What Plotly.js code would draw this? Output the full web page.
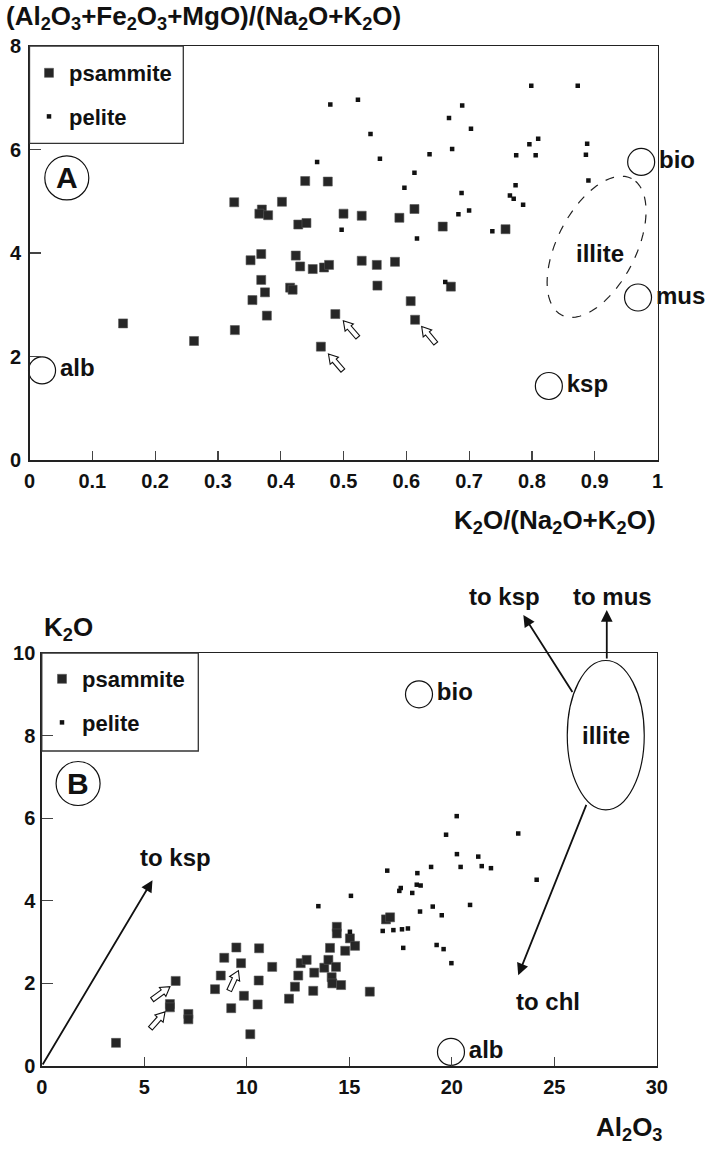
<!DOCTYPE html>
<html><head><meta charset="utf-8">
<script src="https://cdn.plot.ly/plotly-3.0.1.min.js"></script>
<style>html,body{margin:0;padding:0;background:#fff}#chart{width:715px;height:1149px}</style>
</head><body><div id="chart"></div>
<script>
const W = 715, H = 1149;
const FONT = 'Liberation Sans, Arial, Helvetica, sans-serif';

// ---------- Panel A data: K2O/(Na2O+K2O) vs (Al2O3+Fe2O3+MgO)/(Na2O+K2O) ----------
const psamA_x = [0.149,0.262,0.326,0.370,0.366,0.380,0.402,0.428,0.441,0.439,0.475,0.500,0.529,0.589,0.613,0.658,0.758,
                 0.352,0.369,0.424,0.431,0.451,0.469,0.477,0.529,0.553,0.582,0.369,0.375,0.355,0.415,0.419,0.554,0.671,
                 0.607,0.378,0.487,0.614,0.327,0.464];
const psamA_y = [2.64,2.30,4.98,4.84,4.76,4.73,4.99,4.55,4.58,5.39,5.38,4.76,4.72,4.68,4.85,4.51,4.46,
                 3.86,3.98,3.95,3.74,3.69,3.72,3.77,3.85,3.77,3.83,3.48,3.24,3.09,3.33,3.29,3.37,3.35,
                 3.07,2.79,2.82,2.71,2.51,2.19];
const pelA_x = [0.479,0.523,0.543,0.668,0.673,0.637,0.558,0.613,0.597,0.458,0.688,0.683,0.700,0.497,0.617,0.799,
                0.873,0.689,0.703,0.796,0.810,0.775,0.806,0.888,0.886,0.890,0.774,0.765,0.771,0.786,0.737,0.662];
const pelA_y = [6.87,6.96,6.30,6.61,6.01,5.91,5.82,5.55,5.26,5.76,5.16,4.75,4.82,4.45,4.28,7.23,
                7.23,6.85,6.40,6.10,6.21,5.89,5.89,6.11,5.90,5.40,5.31,5.11,5.05,4.93,4.42,3.44];
const endA_names = ['alb','ksp','bio','mus'];
const endA_x = [0.020,0.827,0.974,0.969];
const endA_y = [1.73,1.43,5.76,3.14];
// hollow arrows in panel A: tip position and direction (tail - tip)
const arrowsA_x = [0.4997,0.476,0.6245];
const arrowsA_y = [2.69,2.05,2.58];
const arrowsA_dir = [[13.4,-15.3],[12.4,-14.3],[13.3,-16]];
const A_xticks = [0,0.1,0.2,0.3,0.4,0.5,0.6,0.7,0.8,0.9,1];
const A_xticktext = ['0','0.1','0.2','0.3','0.4','0.5','0.6','0.7','0.8','0.9','1'];
const A_yticks = [0,2,4,6,8];
const A_yticktext = ['0','2','4','6','8'];

// ---------- Panel B data: Al2O3 vs K2O ----------
const psamB_x = [3.62,6.53,6.25,6.25,7.15,7.15,8.45,8.73,8.90,9.49,9.72,9.24,9.86,10.17,10.60,10.58,10.53,11.24,
                 12.06,12.35,12.51,12.63,12.92,13.24,13.29,13.78,13.98,14.06,14.14,14.17,14.35,14.60,14.39,14.39,
                 14.80,15.03,15.28,16.79,16.99,16.0];
const psamB_y = [0.56,2.06,1.50,1.42,1.26,1.13,1.86,2.19,2.62,2.87,2.49,1.40,1.70,0.77,2.85,2.07,1.49,2.40,
                 1.63,1.92,2.19,2.49,2.57,1.82,2.26,2.38,2.57,2.86,2.15,2.00,2.40,1.96,3.37,3.21,
                 2.79,3.09,2.91,3.55,3.60,1.80];
const pelB_x = [20.24,19.72,23.24,20.25,21.29,20.43,21.46,21.91,18.99,18.32,16.85,18.29,18.48,17.51,17.44,18.07,
                24.14,15.08,13.49,19.07,20.89,18.45,19.51,16.63,17.15,17.57,17.86,17.63,19.26,19.60,19.98,15.03];
const pelB_y = [6.05,5.60,5.63,5.13,5.07,4.82,4.84,4.79,4.82,4.67,4.73,4.39,4.37,4.31,4.24,4.19,
                4.51,4.12,3.87,3.86,3.90,3.74,3.65,3.27,3.29,3.31,3.33,2.86,2.93,2.83,2.49,3.25];
const endB_names = ['bio','alb'];
const endB_x = [18.4,19.96];
const endB_y = [9.0,0.34];
const arrowsB_x = [6.25,6.01,9.59];
const arrowsB_y = [1.92,1.31,2.31];
const arrowsB_dir = [[-16,-11.6],[-13.3,-15],[-7.6,-16.6]];
const B_xticks = [0,5,10,15,20,25,30];
const B_xticktext = ['0','5','10','15','20','25','30'];
const B_yticks = [0,2,4,6,8,10];
const B_yticktext = ['0','2','4','6','8','10'];

// ---------- layout geometry (pixels) ----------
const APX = {l:29.5, r:657.5, t:46, b:460};
const BPX = {l:41.8, r:656.8, t:653, b:1066};
const fx = p => p / W;
const fy = p => 1 - p / H;

function axisBase(extra) {
  return Object.assign({
    showgrid:false, zeroline:false, showline:true, mirror:true,
    linecolor:'#222', linewidth:1.5, ticks:'inside', ticklen:9, tickwidth:1.2, tickcolor:'#444',
    tickfont:{family:FONT, size:20, color:'#111', weight:'bold'}, tickmode:'array', fixedrange:true
  }, extra);
}

const psamMarker = {symbol:'square', size:9, color:'#262626', line:{color:'#555', width:0.6}};
const pelMarker = {symbol:'square', size:4.5, color:'#111', line:{width:0}};
const endMarker = {symbol:'circle-open', size:27, color:'#111', line:{color:'#111', width:1.2}};
const labFont = {family:FONT, size:24, color:'#111', weight:'bold'};

const traces = [
  {type:'scatter', mode:'markers', x:psamA_x, y:psamA_y, xaxis:'x', yaxis:'y', name:'psammite',
   marker:psamMarker, legend:'legend', legendgroup:'pA', hoverinfo:'x+y'},
  {type:'scatter', mode:'markers', x:pelA_x, y:pelA_y, xaxis:'x', yaxis:'y', name:'pelite',
   marker:pelMarker, legend:'legend', legendgroup:'lA', hoverinfo:'x+y'},
  {type:'scatter', mode:'markers+text', x:endA_x, y:endA_y, text:endA_names, textposition:'middle right',
   textfont:labFont, xaxis:'x', yaxis:'y', marker:endMarker, showlegend:false, cliponaxis:false, hoverinfo:'text'},
  {type:'scatter', mode:'markers', x:psamB_x, y:psamB_y, xaxis:'x2', yaxis:'y2', name:'psammite',
   marker:psamMarker, legend:'legend2', legendgroup:'pB', hoverinfo:'x+y'},
  {type:'scatter', mode:'markers', x:pelB_x, y:pelB_y, xaxis:'x2', yaxis:'y2', name:'pelite',
   marker:pelMarker, legend:'legend2', legendgroup:'lB', hoverinfo:'x+y'},
  {type:'scatter', mode:'markers+text', x:endB_x, y:endB_y, text:endB_names, textposition:'middle right',
   textfont:labFont, xaxis:'x2', yaxis:'y2', marker:endMarker, showlegend:false, cliponaxis:false, hoverinfo:'text'}
];

// hollow arrow path (pixels relative to tip, y up)
function hollowArrow(dir) {
  const L = 22, hl = 9, hw = 5.5, sw = 2.5;
  const n0 = Math.hypot(dir[0], dir[1]);
  const u = [dir[0]/n0, dir[1]/n0], n = [-u[1], u[0]];
  const P = (a, b) => [a*u[0] + b*n[0], a*u[1] + b*n[1]];
  const pts = [[0,0], P(hl,hw), P(hl,sw), P(L,sw), P(L,-sw), P(hl,-sw), P(hl,-hw)];
  return 'M' + pts.map(p => p[0].toFixed(2) + ',' + p[1].toFixed(2)).join(' L') + ' Z';
}
function ellipsePath(a, b, deg) {
  const th = deg * Math.PI / 180, pts = [];
  for (let i = 0; i < 72; i++) {
    const t = i / 72 * 2 * Math.PI;
    pts.push([a*Math.cos(t)*Math.cos(th) - b*Math.sin(t)*Math.sin(th),
              a*Math.cos(t)*Math.sin(th) + b*Math.sin(t)*Math.cos(th)]);
  }
  return 'M' + pts.map(p => p[0].toFixed(2) + ',' + p[1].toFixed(2)).join(' L') + ' Z';
}
function pxCircle(xr, yr, cx, cy, rx, ry, extra) {
  return Object.assign({type:'circle', xref:xr, yref:yr, xsizemode:'pixel', ysizemode:'pixel',
    xanchor:cx, yanchor:cy, x0:-rx, x1:rx, y0:-ry, y1:ry, line:{color:'#111', width:1.2}}, extra||{});
}

const ILLITE_A = {x:0.903, y:4.12, a:76.7, b:39.3, deg:62.85};
const ILLITE_B = {x:27.51, y:8.01, rx:38.5, ry:74.7};

const shapes = [
  // legend boxes
  {type:'rect', xref:'paper', yref:'paper', x0:fx(APX.l), x1:fx(183.3), y0:fy(143.3), y1:fy(APX.t), line:{color:'#333', width:1.3}},
  {type:'rect', xref:'paper', yref:'paper', x0:fx(BPX.l), x1:fx(198.3), y0:fy(751), y1:fy(BPX.t), line:{color:'#333', width:1.3}},
  // panel label circles
  pxCircle('x', 'y', 0.0594, 5.45, 22, 22),
  pxCircle('x2', 'y2', 1.77, 6.84, 22, 22),
  // illite fields
  {type:'path', xref:'x', yref:'y', xsizemode:'pixel', ysizemode:'pixel', xanchor:ILLITE_A.x, yanchor:ILLITE_A.y,
   path:ellipsePath(ILLITE_A.a, ILLITE_A.b, ILLITE_A.deg), line:{color:'#222', width:1.2, dash:'dash'}},
  pxCircle('x2', 'y2', ILLITE_B.x, ILLITE_B.y, ILLITE_B.rx, ILLITE_B.ry)
];
arrowsA_x.forEach((x, i) => shapes.push({type:'path', xref:'x', yref:'y', xsizemode:'pixel', ysizemode:'pixel',
  xanchor:x, yanchor:arrowsA_y[i], path:hollowArrow(arrowsA_dir[i]), fillcolor:'#fff', line:{color:'#111', width:1.1}}));
arrowsB_x.forEach((x, i) => shapes.push({type:'path', xref:'x2', yref:'y2', xsizemode:'pixel', ysizemode:'pixel',
  xanchor:x, yanchor:arrowsB_y[i], path:hollowArrow(arrowsB_dir[i]), fillcolor:'#fff', line:{color:'#111', width:1.1}}));

const titleFont = {family:FONT, size:26, color:'#111', weight:'bold'};
function txt(text, x, y, opts) {
  return Object.assign({text:text, x:x, y:y, xref:'paper', yref:'paper', showarrow:false,
    font:labFont, xanchor:'center', yanchor:'middle'}, opts||{});
}
function arrowAnn(hx, hy, tx, ty) {
  return {text:'', x:hx, y:hy, ax:tx, ay:ty, xref:'x2', yref:'y2', axref:'x2', ayref:'y2',
    showarrow:true, arrowhead:2, arrowsize:1.3, arrowwidth:1.8, arrowcolor:'#111', standoff:0, startstandoff:0};
}

const annotations = [
  txt('(Al<sub>2</sub>O<sub>3</sub>+Fe<sub>2</sub>O<sub>3</sub>+MgO)/(Na<sub>2</sub>O+K<sub>2</sub>O)', fx(4), fy(18),
      {xanchor:'left', font:titleFont}),
  txt('K<sub>2</sub>O/(Na<sub>2</sub>O+K<sub>2</sub>O)', fx(658), fy(521), {xanchor:'right', font:titleFont}),
  txt('A', 0.0594, 5.45, {xref:'x', yref:'y', font:{family:FONT, size:30, color:'#111', weight:'bold'}}),
  txt('illite', 0.908, 4.0, {xref:'x', yref:'y'}),
  // panel B
  txt('K<sub>2</sub>O', fx(42), fy(628), {xanchor:'left', font:titleFont}),
  txt('Al<sub>2</sub>O<sub>3</sub>', fx(664), fy(1147), {xanchor:'right', yanchor:'bottom', font:titleFont}),
  txt('B', 1.77, 6.84, {xref:'x2', yref:'y2', font:{family:FONT, size:30, color:'#111', weight:'bold'}}),
  txt('illite', ILLITE_B.x, ILLITE_B.y, {xref:'x2', yref:'y2'}),
  txt('to ksp', 6.5, 5.06, {xref:'x2', yref:'y2'}),
  txt('to chl', 24.69, 1.57, {xref:'x2', yref:'y2'}),
  txt('to ksp', fx(505), fy(596)),
  txt('to mus', fx(612), fy(596)),
  arrowAnn(5.4, 4.5, 0, 0),
  arrowAnn(23.24, 2.2, 26.59, 6.36),
  arrowAnn(23.49, 10.92, 25.93, 9.02),
  arrowAnn(27.56, 11.04, 27.56, 9.83)
];

const legendBase = {xanchor:'left', yanchor:'top', bgcolor:'rgba(0,0,0,0)', borderwidth:0,
  font:{family:FONT, size:22, color:'#111', weight:'bold'}, traceorder:'grouped', tracegroupgap:12, itemsizing:'trace'};

const layout = {
  width:W, height:H, autosize:false, margin:{l:0, r:0, t:0, b:0},
  paper_bgcolor:'#fff', plot_bgcolor:'#fff', showlegend:true, hovermode:'closest',
  font:{family:FONT, color:'#111'},
  xaxis: axisBase({domain:[fx(APX.l), fx(APX.r)], range:[0,1], anchor:'y', tickvals:A_xticks, ticktext:A_xticktext, ticklabelstandoff:2}),
  yaxis: axisBase({domain:[fy(APX.b), fy(APX.t)], range:[0,8], anchor:'x', tickvals:A_yticks, ticktext:A_yticktext, ticklen:11, ticklabelstandoff:3}),
  xaxis2: axisBase({domain:[fx(BPX.l), fx(BPX.r)], range:[0,30], anchor:'y2', tickvals:B_xticks, ticktext:B_xticktext, ticklabelstandoff:2}),
  yaxis2: axisBase({domain:[fy(BPX.b), fy(BPX.t)], range:[0,10], anchor:'x2', tickvals:B_yticks, ticktext:B_yticktext, ticklen:11, ticklabelstandoff:1}),
  legend: Object.assign({x:fx(29), y:fy(52)}, legendBase),
  legend2: Object.assign({x:fx(42), y:fy(658)}, legendBase),
  shapes:shapes, annotations:annotations
};

Plotly.newPlot('chart', traces, layout, {displayModeBar:false, staticPlot:true});
</script></body></html>
